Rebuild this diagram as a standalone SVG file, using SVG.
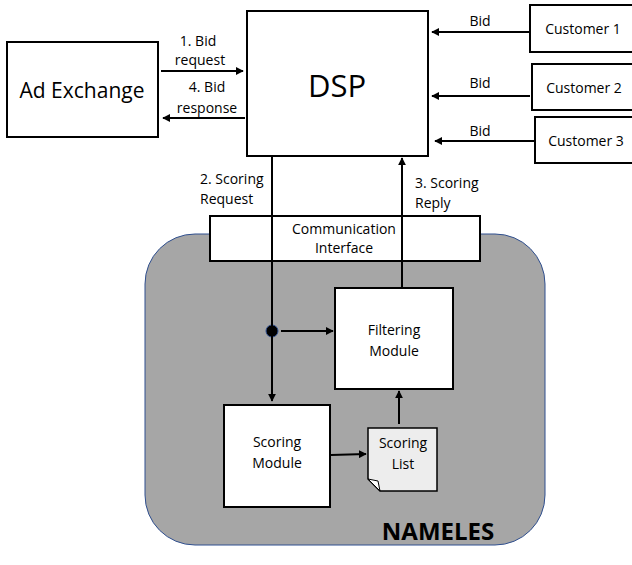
<svg xmlns="http://www.w3.org/2000/svg" width="632" height="565" viewBox="0 0 632 565">
<style>
.box{fill:#fff;stroke:#000;stroke-width:2}
.t{font-family:"Open Sans","Liberation Sans",sans-serif;font-size:14px;fill:#000;text-anchor:middle}
.c{stroke:#000;stroke-width:2;fill:none}
</style>
<defs>
<marker id="ah" viewBox="0 0 10 10" refX="9" refY="5" markerWidth="4" markerHeight="4" orient="auto" markerUnits="strokeWidth">
<path d="M0,0 L10,5 L0,10 z" fill="#000"/>
</marker>
</defs>
<rect width="632" height="565" fill="#fff"/>
<g id="nameles">
<rect x="145" y="234" width="400" height="311" rx="50" fill="#a6a6a6" stroke="#2f4f8f" stroke-width="1"/>
<text x="438" y="540" style="font-family:'Open Sans','Liberation Sans',sans-serif;font-size:24px;font-weight:bold;text-anchor:middle">NAMELES</text>
</g>
<g id="ad-exchange">
<rect class="box" x="7" y="42" width="151" height="95"/>
<text class="t" x="82" y="98" style="font-size:21px">Ad Exchange</text>
</g>
<g id="dsp">
<rect class="box" x="247" y="11" width="181" height="145"/>
<text class="t" x="337" y="97" style="font-size:31px">DSP</text>
</g>
<g id="customer1">
<rect class="box" x="530" y="5" width="110" height="47"/>
<text class="t" x="583" y="34">Customer 1</text>
</g>
<g id="customer2">
<rect class="box" x="532" y="64" width="110" height="46"/>
<text class="t" x="584" y="93">Customer 2</text>
</g>
<g id="customer3">
<rect class="box" x="535" y="117" width="110" height="46"/>
<text class="t" x="586" y="146">Customer 3</text>
</g>
<g id="comm-interface">
<rect class="box" x="210" y="216" width="270" height="45"/>
<text class="t" x="344" y="234">Communication</text>
<text class="t" x="344" y="253">Interface</text>
</g>
<g id="filtering-module">
<rect class="box" x="335" y="288" width="118" height="101"/>
<text class="t" x="394" y="335">Filtering</text>
<text class="t" x="394" y="356">Module</text>
</g>
<g id="scoring-module">
<rect class="box" x="224" y="405" width="106" height="102"/>
<text class="t" x="277" y="447">Scoring</text>
<text class="t" x="277" y="468">Module</text>
</g>
<g id="scoring-list">
<path d="M368,428 H437 V491 H380 L368,479 Z" fill="#ededed" stroke="#000" stroke-width="1.5"/>
<path d="M368,479 L380,491 L378,481 Z" fill="#fff" stroke="#000" stroke-width="1"/>
<text class="t" x="403" y="448">Scoring</text>
<text class="t" x="403" y="469">List</text>
</g>
<g id="junction">
<circle cx="272" cy="331" r="6" fill="#000" stroke="#2f4f8f" stroke-width="1"/>
</g>
<g id="connectors">
<line class="c" x1="161" y1="71" x2="243" y2="71" marker-end="url(#ah)"/>
<line class="c" x1="245" y1="118" x2="163" y2="118" marker-end="url(#ah)"/>
<line class="c" x1="529" y1="32" x2="432" y2="32" marker-end="url(#ah)"/>
<line class="c" x1="530" y1="96" x2="432" y2="96" marker-end="url(#ah)"/>
<line class="c" x1="534" y1="141" x2="435" y2="141" marker-end="url(#ah)"/>
<line class="c" x1="272" y1="156" x2="272" y2="326"/>
<line class="c" x1="272" y1="336" x2="272" y2="401" marker-end="url(#ah)"/>
<line class="c" x1="281" y1="331" x2="333" y2="331" marker-end="url(#ah)"/>
<line class="c" x1="402" y1="288" x2="402" y2="158" marker-end="url(#ah)"/>
<line class="c" x1="331" y1="455" x2="366" y2="454" marker-end="url(#ah)"/>
<line class="c" x1="399" y1="424" x2="399" y2="391" marker-end="url(#ah)"/>
<text class="t" x="198" y="46">1. Bid</text>
<text class="t" x="200" y="65">request</text>
<text class="t" x="207" y="92">4. Bid</text>
<text class="t" x="207" y="113">response</text>
<text class="t" x="480" y="26">Bid</text>
<text class="t" x="480" y="88">Bid</text>
<text class="t" x="480" y="136">Bid</text>
<text class="t" x="200" y="184" style="text-anchor:start">2. Scoring</text>
<text class="t" x="200" y="204" style="text-anchor:start">Request</text>
<text class="t" x="415" y="188" style="text-anchor:start">3. Scoring</text>
<text class="t" x="415" y="208" style="text-anchor:start">Reply</text>
</g>
</svg>
